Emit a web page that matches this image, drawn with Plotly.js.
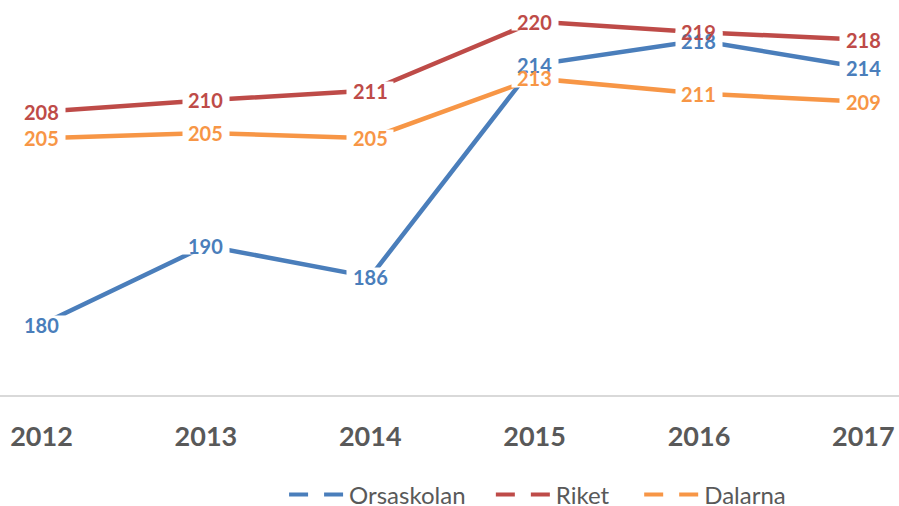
<!DOCTYPE html>
<html>
<head>
<meta charset="utf-8">
<script src="https://cdn.plot.ly/plotly-3.0.1.min.js"></script>
<style>html,body{margin:0;padding:0;background:#fff;} #chart{width:899px;height:506px;}</style>
</head>
<body>
<div id="chart"></div>
<script>
// Data
const years = ['2012', '2013', '2014', '2015', '2016', '2017'];
const orsaskolan = [180.0, 190.4, 186.3, 214.3, 217.5, 213.9];
const riket      = [208.1, 209.6, 210.9, 220.0, 218.6, 217.6];
const dalarna    = [204.6, 205.3, 204.6, 212.5, 210.5, 209.4];
const seriesNames = ['Orsaskolan', 'Riket', 'Dalarna'];

const colors = ['#4a7ebb', '#be4b48', '#f79646'];
const allSeries = [orsaskolan, riket, dalarna];
const legendIds = ['legend', 'legend2', 'legend3'];
const legendX = [0.316, 0.546, 0.711];

const traces = [];
const annotations = [];
allSeries.forEach((vals, i) => {
  traces.push({
    type: 'scatter', mode: 'lines', x: years, y: vals,
    line: {color: colors[i], width: 4.5}, showlegend: false, hoverinfo: 'skip'
  });
});
// legend-only entries (dashed symbols as in the original legend)
allSeries.forEach((vals, i) => {
  traces.push({
    type: 'scatter', mode: 'lines', x: [null], y: [null], name: seriesNames[i],
    legend: legendIds[i],
    line: {color: colors[i], width: 4, dash: '19px,16px'}, showlegend: true, hoverinfo: 'skip'
  });
});
// pass 1: white boxes that break the lines behind each label
allSeries.forEach((vals, i) => {
  vals.forEach((v, j) => {
    annotations.push({
      x: j, y: v, xref: 'x', yref: 'y', text: '',
      showarrow: false, bgcolor: '#ffffff', borderpad: 0, width: 46, height: 17,
      xanchor: 'center', yanchor: 'middle'
    });
  });
});
// pass 2: the label texts on top
allSeries.forEach((vals, i) => {
  vals.forEach((v, j) => {
    annotations.push({
      x: j, y: v, xref: 'x', yref: 'y', text: String(Math.round(v)),
      showarrow: false, borderpad: 0,
      font: {family: 'Lato, sans-serif', size: 20, color: colors[i], weight: 'bold'},
      xanchor: 'center', yanchor: 'middle'
    });
  });
});

const legendBase = {
  orientation: 'h', xanchor: 'left', yref: 'container', y: 0.022, yanchor: 'middle',
  font: {family: 'Lato, sans-serif', size: 24, color: '#595959'},
  itemwidth: 55, bgcolor: 'rgba(0,0,0,0)'
};

const layout = {
  width: 899, height: 506,
  margin: {l: 0, r: 0, t: 0, b: 111, pad: 0},
  paper_bgcolor: '#ffffff', plot_bgcolor: '#ffffff',
  hovermode: false,
  xaxis: {
    type: 'category', categoryarray: years, range: [-0.2525, 5.217],
    showgrid: false, zeroline: false, showline: true, linecolor: '#d9d9d9', linewidth: 2,
    ticks: '', ticklabelstandoff: 17,
    tickfont: {family: 'Lato, sans-serif', size: 27, color: '#595959', weight: 'bold'},
    fixedrange: true
  },
  yaxis: {
    range: [170.7, 222.85], visible: false, showgrid: false, zeroline: false, fixedrange: true
  },
  showlegend: true,
  legend: Object.assign({}, legendBase, {x: legendX[0]}),
  legend2: Object.assign({}, legendBase, {x: legendX[1]}),
  legend3: Object.assign({}, legendBase, {x: legendX[2]}),
  annotations: annotations
};

Plotly.newPlot('chart', traces, layout, {displayModeBar: false, staticPlot: true});
</script>
</body>
</html>
